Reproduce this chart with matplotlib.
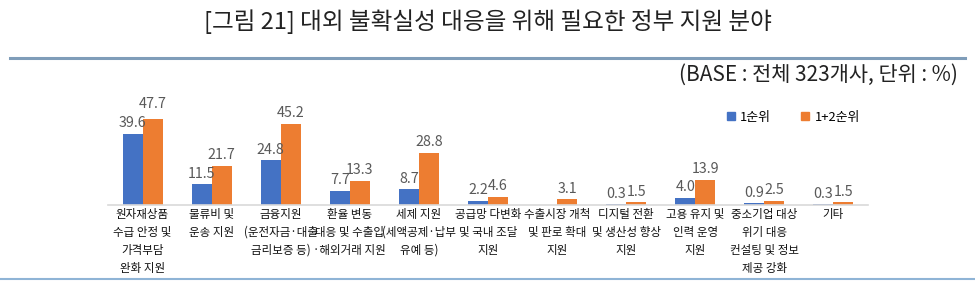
import matplotlib
matplotlib.use("Agg")
import matplotlib.pyplot as plt
import numpy as np
from matplotlib.lines import Line2D

plt.rcParams['font.family'] = ['Noto Sans CJK KR', 'DejaVu Sans']

categories = [
    "원자재상품\n수급 안정 및\n가격부담\n완화 지원",
    "물류비 및\n운송 지원",
    "금융지원\n(운전자금·대출\n금리보증 등)",
    "환율 변동\n대응 및 수출입\n·해외거래 지원",
    "세제 지원\n(세액공제·납부\n유예 등)",
    "공급망 다변화\n및 국내 조달\n지원",
    "수출시장 개척\n및 판로 확대\n지원",
    "디지털 전환\n및 생산성 향상\n지원",
    "고용 유지 및\n인력 운영\n지원",
    "중소기업 대상\n위기 대응\n컨설팅 및 정보\n제공 강화",
    "기타",
]
rank1 = [39.6, 11.5, 24.8, 7.7, 8.7, 2.2, 0.0, 0.3, 4.0, 0.9, 0.3]
rank12 = [47.7, 21.7, 45.2, 13.3, 28.8, 4.6, 3.1, 1.5, 13.9, 2.5, 1.5]
rank1_labels = ["39.6", "11.5", "24.8", "7.7", "8.7", "2.2", "", "0.3", "4.0", "0.9", "0.3"]
rank12_labels = ["47.7", "21.7", "45.2", "13.3", "28.8", "4.6", "3.1", "1.5", "13.9", "2.5", "1.5"]
series_names = ["1순위", "1+2순위"]

title = "[그림 21] 대외 불확실성 대응을 위해 필요한 정부 지원 분야"
subtitle = "(BASE : 전체 323개사, 단위 : %)"

W, H = 975, 283
fig = plt.figure(figsize=(W / 100, H / 100), dpi=100)
fig.patch.set_facecolor("white")

# axes placement in pixels
left, right, base, top = 108, 868, 205, 100
ax = fig.add_axes([left / W, (H - base) / H, (right - left) / W, (base - top) / H])
n = len(categories)
x = np.arange(n)
bw = 0.29
blue = "#4472C4"
orange = "#ED7D31"
ax.bar(x - bw / 2, rank1, bw, color=blue, label=series_names[0])
ax.bar(x + bw / 2, rank12, bw, color=orange, label=series_names[1])
ax.set_xlim(-0.5, n - 0.5)
ax.set_ylim(0, (base - top) / 1.8)
for s in ["top", "right", "left"]:
    ax.spines[s].set_visible(False)
ax.spines["bottom"].set_color("#D9D9D9")
ax.spines["bottom"].set_linewidth(1.2)
ax.set_yticks([])
ax.set_xticks(x)
ax.set_xticklabels(categories, fontsize=8.3, color="#111111", linespacing=1.5)
ax.tick_params(axis="x", length=0, pad=2)
ax.patch.set_alpha(0)

for i in range(n):
    if rank1_labels[i]:
        ax.text(x[i] - bw / 2, rank1[i] + 6.0, rank1_labels[i], ha="center", va="center",
                fontsize=10.3, color="#595959")
    dy = 2.5 if (rank12[i] - rank1[i] < 10 and rank1[i] > 30) else 0.0
    ax.text(x[i] + bw / 2, rank12[i] + 6.0 + dy, rank12_labels[i], ha="center", va="center",
            fontsize=10.3, color="#595959")

handles = [Line2D([], [], marker="s", linestyle="none", color=blue, markersize=6),
           Line2D([], [], marker="s", linestyle="none", color=orange, markersize=6)]
fig.legend(handles, series_names, loc="center", bbox_to_anchor=(792 / W, 1 - 117 / H), ncol=2,
           frameon=False, fontsize=9.3, handletextpad=0.2, columnspacing=2.2, handlelength=1)

fig.text(0.5, 1 - 22 / H, title, ha="center", va="center", fontsize=17, color="#222222")
fig.text(958 / W, 1 - 75 / H, subtitle, ha="right", va="center", fontsize=15, color="#222222")

fig.add_artist(Line2D([10 / W, 965 / W], [1 - 58 / H, 1 - 58 / H], color="#7F9DB9", linewidth=2.2))
fig.add_artist(Line2D([0 / W, 975 / W], [1 - 279 / H, 1 - 279 / H], color="#8FB4D6", linewidth=1.5))

fig.savefig("out.png", dpi=100, facecolor="white")
